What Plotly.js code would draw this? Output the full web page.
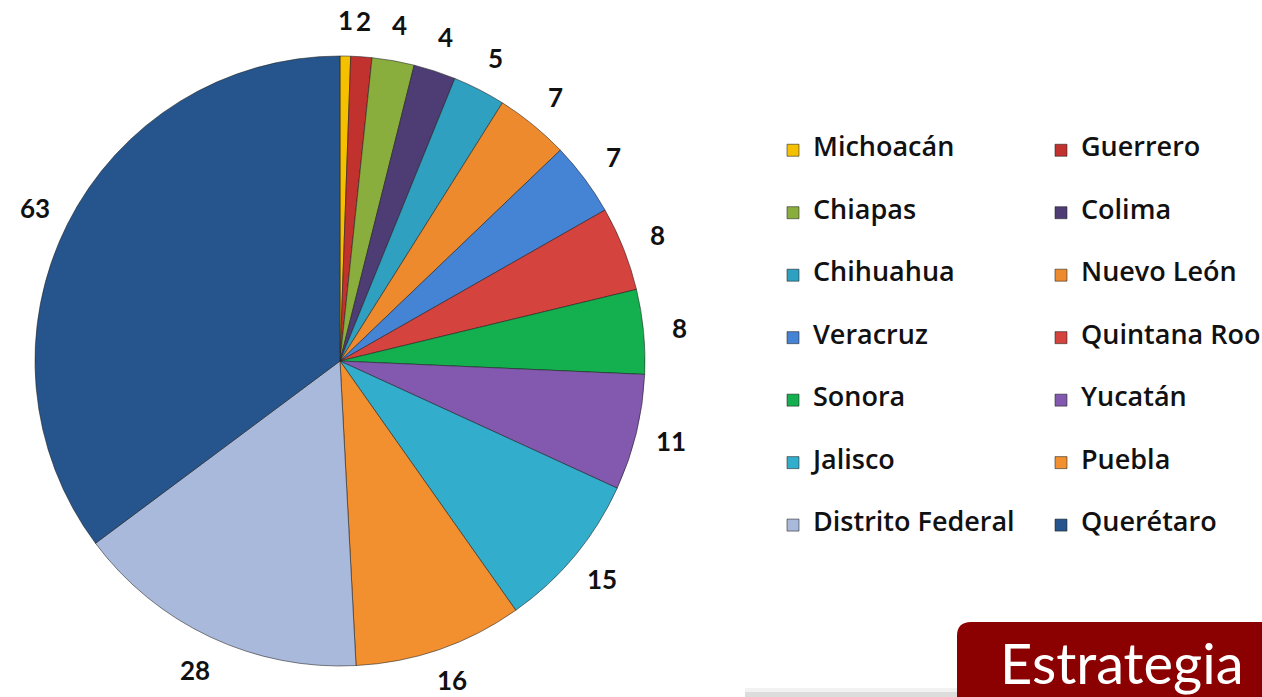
<!DOCTYPE html>
<html>
<head>
<meta charset="utf-8">
<script src="https://cdn.plot.ly/plotly-3.0.1.min.js"></script>
<style>
  html, body { margin: 0; padding: 0; background: #ffffff; }
  #chart { width: 1262px; height: 697px; }
</style>
</head>
<body>
<div id="chart"></div>
<script>
// Data
const states = ["Michoacán", "Guerrero", "Chiapas", "Colima", "Chihuahua", "Nuevo León",
  "Veracruz", "Quintana Roo", "Sonora", "Yucatán", "Jalisco", "Puebla",
  "Distrito Federal", "Querétaro"];
const counts = [1, 2, 4, 4, 5, 7, 7, 8, 8, 11, 15, 16, 28, 63];
const sliceColors = ["#F5C000", "#C1312E", "#8AAE3E", "#4E3D74", "#2FA0C0", "#EE8A2E",
  "#4583D5", "#D4433D", "#14B050", "#8259AE", "#33ADCC", "#F29030",
  "#A9B9DB", "#25558C"];
const boxText = "Estrategia";

// Layout helpers (pixel -> paper coordinates of the plot area)
const W = 1262, H = 697;
const PLOT_W = 660;               // plot area width (margin right holds legend)
const px = x => x / PLOT_W;
const py = y => 1 - y / H;

const cx = 340, cy = 361, R = 305;   // pie centre and radius (pixels)
const labelR = 341;                  // radius where the value labels sit
const labelFont = 26;

// legend labels padded with blank lines for row spacing like the original
const legendLabels = states.map(s => '\u00a0<br><span style="font-size:27px">' + s + '</span><br>\u00a0');

const trace = {
  type: 'pie',
  labels: legendLabels,
  values: counts,
  textinfo: 'none',
  sort: false,
  direction: 'clockwise',
  rotation: 0,
  automargin: false,
  hoverinfo: 'skip',
  marker: { colors: sliceColors, line: { color: 'rgba(30,30,30,0.55)', width: 1 } },
  domain: { x: [px(cx - R), px(cx + R)], y: [py(cy + R), py(cy - R)] }
};

// value labels placed at each slice's mid-angle, derived from the data
const total = counts.reduce((a, b) => a + b, 0);
let cum = 0;
const valueLabels = counts.map(v => {
  const mid = cum + v / 2;
  cum += v;
  const th = 2 * Math.PI * mid / total;
  // keep the label box inside the canvas
  const yPix = Math.min(cy - labelR * Math.cos(th), H - labelFont * 0.66);
  return {
    xref: 'paper', yref: 'paper',
    x: px(cx + labelR * Math.sin(th)), y: py(yPix),
    xanchor: 'center', yanchor: 'middle',
    text: String(v), showarrow: false,
    font: { family: 'Lato, "Open Sans", sans-serif', size: labelFont, color: '#111111', weight: 'bold' }
  };
});

// rounded-corner box for the "Estrategia" badge
const bx0 = 957, by0 = 622, bx1 = 1275, by1 = 705, rr = 14;
const boxPath = `M ${px(bx0)},${py(by1)} L ${px(bx0)},${py(by0 + rr)} Q ${px(bx0)},${py(by0)} ${px(bx0 + rr)},${py(by0)} L ${px(bx1)},${py(by0)} L ${px(bx1)},${py(by1)} Z`;

const layout = {
  width: W, height: H,
  margin: { l: 0, r: W - PLOT_W, t: 0, b: 0, autoexpand: false },
  paper_bgcolor: '#ffffff',
  plot_bgcolor: '#ffffff',
  showlegend: true,
  legend: {
    orientation: 'h',
    x: px(773), xanchor: 'left',
    y: py(114), yanchor: 'top',
    entrywidth: 223, entrywidthmode: 'pixels',
    maxheight: 600,
    font: { family: '"Open Sans", Lato, sans-serif', size: 15.25, color: '#111111', weight: 600 },
    bgcolor: 'rgba(0,0,0,0)',
    traceorder: 'normal'
  },
  shapes: [
    { type: 'rect', xref: 'paper', yref: 'paper', x0: px(745), x1: px(957), y0: py(697), y1: py(688),
      fillcolor: 'rgba(0,0,0,0.05)', line: { width: 0 }, layer: 'below' },
    { type: 'rect', xref: 'paper', yref: 'paper', x0: px(745), x1: px(957), y0: py(697), y1: py(692),
      fillcolor: 'rgba(0,0,0,0.09)', line: { width: 0 }, layer: 'below' },
    { type: 'path', xref: 'paper', yref: 'paper', path: boxPath,
      fillcolor: '#8B0000', line: { width: 0 }, layer: 'above' }
  ],
  annotations: valueLabels.concat([
    { xref: 'paper', yref: 'paper', x: px(998), y: py(662), xanchor: 'left', yanchor: 'middle',
      text: boxText, showarrow: false,
      font: { family: 'Lato, "Open Sans", sans-serif', size: 56, color: '#ffffff' } }
  ])
};

Plotly.newPlot('chart', [trace], layout, { staticPlot: true, displayModeBar: false });
</script>
</body>
</html>
